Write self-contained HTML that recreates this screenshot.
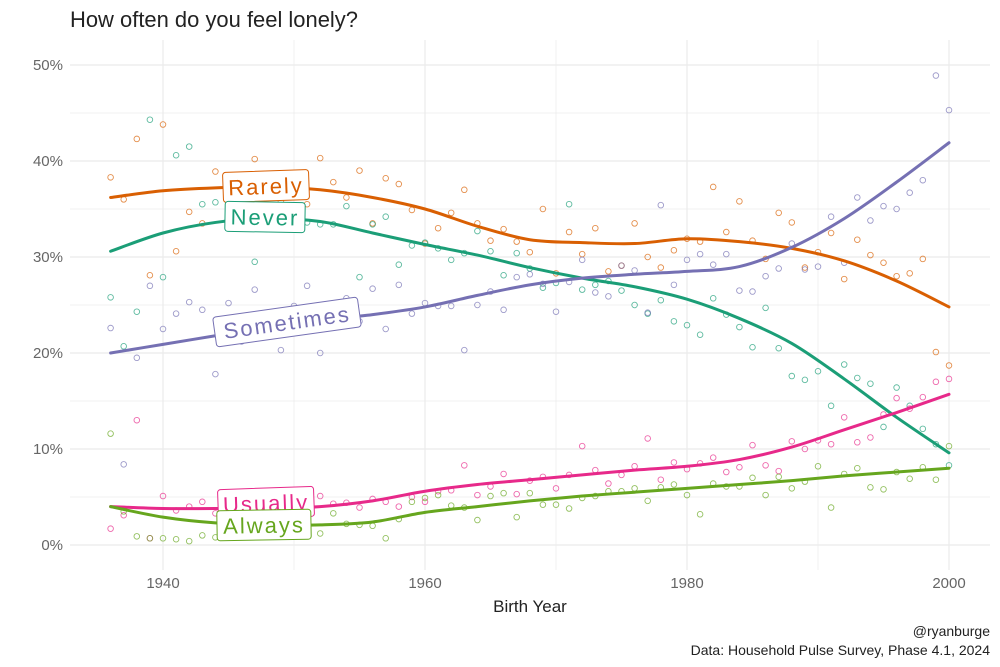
<!DOCTYPE html>
<html><head><meta charset="utf-8">
<style>
body{margin:0;background:#fff;}
svg{display:block;font-family:"Liberation Sans",sans-serif;}
</style></head>
<body>
<svg id="chart" width="1000" height="667" viewBox="0 0 1000 667">
<text x="70" y="27" font-size="22" fill="#222" textLength="288" lengthAdjust="spacingAndGlyphs">How often do you feel lonely?</text>
<g id="grid"></g><g id="pts"></g><g id="lines"></g><g id="labels"></g><g id="axes"></g>
<text x="530" y="612" font-size="17" fill="#222" text-anchor="middle">Birth Year</text>
<text x="990" y="636" font-size="14" fill="#222" text-anchor="end">@ryanburge</text>
<text x="990" y="655" font-size="14" fill="#222" text-anchor="end">Data: Household Pulse Survey, Phase 4.1, 2024</text>
</svg>
<script>
const years = []; for (let y = 1936; y <= 2000; y++) years.push(y);
const xTicks = [1940, 1960, 1980, 2000];
const yTicks = [0, 10, 20, 30, 40, 50];
const yTickLabels = ["0%", "10%", "20%", "30%", "40%", "50%"];
const lineYears = [1936,1940,1944,1948,1952,1956,1960,1964,1968,1972,1976,1980,1984,1988,1992,1996,2000];
const rarelyLine = [36.2,36.9,37.2,37.3,37.0,36.2,35.0,33.2,31.8,31.5,31.4,31.9,31.6,30.9,29.6,27.5,24.8];
const neverLine = [30.6,32.5,33.6,34.0,33.7,32.5,31.3,30.2,28.9,27.8,26.9,25.6,23.6,21.0,17.3,13.3,9.6];
const sometimesLine = [20.0,20.9,21.8,22.7,23.4,24.0,24.8,26.0,27.1,27.8,28.2,28.5,29.0,31.0,34.0,37.8,41.9];
const usuallyLine = [4.0,3.8,3.8,3.8,4.0,4.6,5.6,6.3,6.8,7.3,7.8,8.2,8.9,10.2,12.0,13.8,15.7];
const alwaysLine = [4.0,2.9,2.3,2.1,2.1,2.4,3.4,4.0,4.6,5.1,5.5,5.9,6.3,6.7,7.2,7.6,8.0];
const rarelyPts = [38.3,36,42.3,28.1,43.8,30.6,34.7,33.5,38.9,37.6,34.5,40.2,36.5,35.8,37,35.5,40.3,37.8,36.2,39,33.5,38.2,37.6,34.9,31.4,33,34.6,37,33.5,31.7,32.9,31.6,30.5,35,28.3,32.6,30.3,33,28.5,29.1,33.5,30,28.9,30.7,31.9,31.6,37.3,32.6,35.8,31.7,29.8,34.6,33.6,28.9,30.5,32.5,27.7,31.8,30.2,29.4,28,28.3,29.8,20.1,18.7];
const neverPts = [25.8,20.7,24.3,44.3,27.9,40.6,41.5,35.5,35.7,33,34.5,29.5,33.6,33.8,34,33.6,33.4,33.4,35.3,27.9,33.4,34.2,29.2,31.2,31.5,30.9,29.7,30.4,32.7,30.6,28.1,30.4,28.8,26.8,27.3,35.5,26.6,27.1,27.5,26.5,25,24.1,25.5,23.3,22.9,21.9,25.7,24,22.7,20.6,24.7,20.5,17.6,17.2,18.1,14.5,18.8,17.4,16.8,12.3,16.4,14.5,12.1,10.5,8.3];
const sometimesPts = [22.6,8.4,19.5,27,22.5,24.1,25.3,24.5,17.8,25.2,21.2,26.6,23.5,20.3,24.9,27,20,24.5,25.7,23.3,26.7,22.5,27.1,24.1,25.2,24.9,24.9,20.3,25,26.4,24.5,27.9,28.2,27.2,24.3,27.4,29.7,26.3,25.9,29.1,28.6,24.2,35.4,27.1,29.7,30.3,29.2,30.3,26.5,26.4,28,28.8,31.4,28.7,29,34.2,29.4,36.2,33.8,35.3,35,36.7,38,48.9,45.3];
const usuallyPts = [1.7,3.1,13,0.7,5.1,3.6,4,4.5,3.3,1.9,3,2.1,2.5,2,3.1,4.1,5.1,4.3,4.4,3.9,4.8,4.5,4,5,4.5,5.6,5.7,8.3,5.2,6.1,7.4,5.3,6.7,7.1,5.9,7.3,10.3,7.8,6.4,7.3,8.2,11.1,6.8,8.6,7.9,8.5,9.1,7.6,8.1,10.4,8.3,7.7,10.8,10,10.9,10.5,13.3,10.7,11.2,13.6,15.3,14.2,15.4,17,17.3];
const alwaysPts = [11.6,3.5,0.9,0.7,0.7,0.6,0.4,1,0.8,2.5,2.4,4.3,3.9,2.4,2.1,2.6,1.2,3.3,2.2,2.1,2,0.7,2.7,4.5,4.9,5.2,4.1,3.9,2.6,5.1,5.4,2.9,5.4,4.2,4.2,3.8,4.9,5.1,5.6,5.6,5.9,4.6,6,6.3,5.2,3.2,6.4,6.1,6.1,7,5.2,7.1,5.9,6.6,8.2,3.9,7.4,8,6,5.8,7.6,6.9,8.1,6.8,10.3];

const NS = "http://www.w3.org/2000/svg";
const X = y => 163 + (y - 1940) * 13.1;
const Y = v => 545 - v * 9.6;
function mk(tag, attrs, parent) {
  const e = document.createElementNS(NS, tag);
  for (const k in attrs) e.setAttribute(k, attrs[k]);
  parent.appendChild(e); return e;
}
const grid = document.getElementById("grid");
for (let v = 0; v <= 50; v += 5) {
  const g = mk("line", {x1: 70, x2: 990, y1: Y(v), y2: Y(v), stroke: "#ebebeb", "stroke-width": v % 10 ? 0.7 : 1.2}, grid);
  
  
}
for (let yr = 1940; yr <= 2000; yr += 10) {
  const g = mk("line", {x1: X(yr), x2: X(yr), y1: 40, y2: 570, stroke: "#ebebeb", "stroke-width": yr % 20 ? 0.7 : 1.2}, grid);
  
  
}
const axes = document.getElementById("axes");
yTicks.forEach((v, i) => {
  const t = mk("text", {x: 63, y: Y(v) + 5, "font-size": 15, fill: "#666", "text-anchor": "end"}, axes);
  t.textContent = yTickLabels[i];
  
  
});
xTicks.forEach(yr => {
  const t = mk("text", {x: X(yr), y: 588, "font-size": 15, fill: "#666", "text-anchor": "middle"}, axes);
  t.textContent = yr;
  
  
});
const series = [
  {name: "rarely", color: "#d95f02", pts: rarelyPts, line: rarelyLine},
  {name: "never", color: "#1b9e77", pts: neverPts, line: neverLine},
  {name: "sometimes", color: "#7570b3", pts: sometimesPts, line: sometimesLine},
  {name: "usually", color: "#e7298a", pts: usuallyPts, line: usuallyLine},
  {name: "always", color: "#66a61e", pts: alwaysPts, line: alwaysLine}
];
function smoothPath(xs, ys) {
  const p = xs.map((x, i) => [X(x), Y(ys[i])]);
  let d = "M" + p[0][0] + "," + p[0][1];
  for (let i = 0; i < p.length - 1; i++) {
    const p0 = p[i - 1] || p[i], p1 = p[i], p2 = p[i + 1], p3 = p[i + 2] || p2;
    d += " C" + (p1[0] + (p2[0] - p0[0]) / 6) + "," + (p1[1] + (p2[1] - p0[1]) / 6) + " " +
      (p2[0] - (p3[0] - p1[0]) / 6) + "," + (p2[1] - (p3[1] - p1[1]) / 6) + " " + p2[0] + "," + p2[1];
  }
  return d;
}
const ptsG = document.getElementById("pts"), linesG = document.getElementById("lines");
series.forEach(s => {
  s.pts.forEach((v, i) => {
    const c = mk("circle", {cx: X(years[i]), cy: Y(v), r: 2.8, fill: "none", stroke: s.color, "stroke-width": 0.9, opacity: 0.7}, ptsG);
    
    
  });
  const l = mk("path", {d: smoothPath(lineYears, s.line), fill: "none", stroke: s.color, "stroke-width": 3, "stroke-linecap": "round"}, linesG);
  
  
});
const labels = [
  {text: "Rarely", color: "#d95f02", x: 266, y: 186, w: 86, rot: -2},
  {text: "Never", color: "#1b9e77", x: 265, y: 217, w: 80, rot: 1},
  {text: "Sometimes", color: "#7570b3", x: 287, y: 322, w: 146, rot: -8},
  {text: "Usually", color: "#e7298a", x: 266, y: 503, w: 96, rot: -2},
  {text: "Always", color: "#66a61e", x: 264, y: 525, w: 94, rot: -1}
];
const labG = document.getElementById("labels");
labels.forEach(L => {
  const g = mk("g", {transform: `translate(${L.x},${L.y}) rotate(${L.rot})`}, labG);
  
  
  mk("rect", {x: -L.w / 2, y: -15, width: L.w, height: 30, rx: 3, fill: "#fff", stroke: L.color, "stroke-width": 1}, g);
  const t = mk("text", {x: 0, y: 8, "font-size": 22, fill: L.color, "text-anchor": "middle", "letter-spacing": 2}, g);
  t.textContent = L.text;
});
</script>
</body></html>
